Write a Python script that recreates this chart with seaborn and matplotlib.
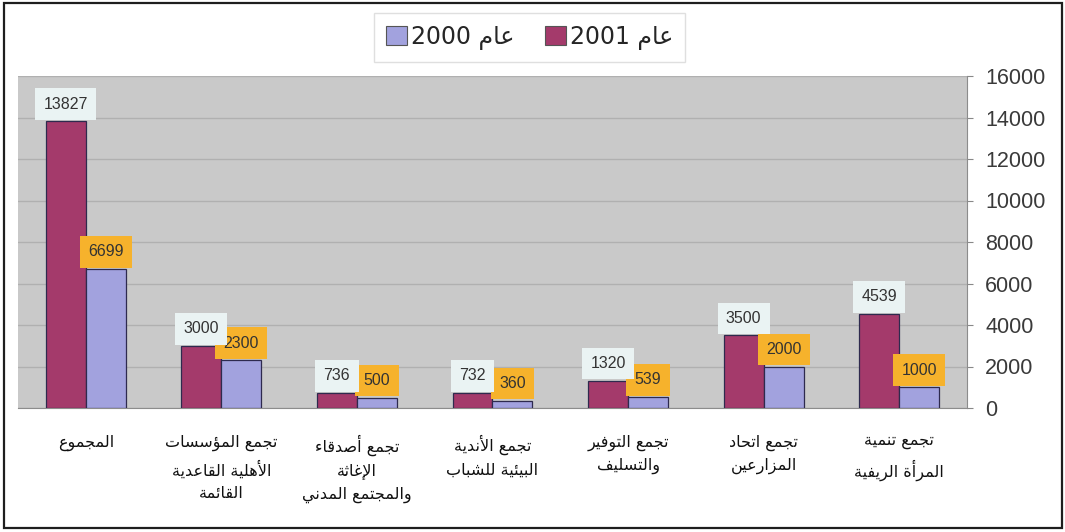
import matplotlib
matplotlib.use("Agg")
import matplotlib.pyplot as plt
from matplotlib.patches import Patch, Rectangle
import pandas as pd
import seaborn as sns

# ---- data -------------------------------------------------------------
categories = [
    "المجموع",
    "تجمع المؤسسات\nالأهلية القاعدية\nالقائمة",
    "تجمع أصدقاء\nالإغاثة\nوالمجتمع المدني",
    "تجمع الأندية\nالبيئية للشباب",
    "تجمع التوفير\nوالتسليف",
    "تجمع اتحاد\nالمزارعين",
    "تجمع تنمية\nالمرأة الريفية",
]
values_2001 = [13827, 3000, 736, 732, 1320, 3500, 4539]
values_2000 = [6699, 2300, 500, 360, 539, 2000, 1000]
series_names = ["عام 2001", "عام 2000"]
y_ticks = [0, 2000, 4000, 6000, 8000, 10000, 12000, 14000, 16000]

# ---- minimal Arabic shaping (presentation forms + visual order) ---------
_FORMS = {
    "\u0621": (0xFE80, 1), "\u0622": (0xFE81, 2), "\u0623": (0xFE83, 2),
    "\u0624": (0xFE85, 2), "\u0625": (0xFE87, 2), "\u0626": (0xFE89, 4),
    "\u0627": (0xFE8D, 2), "\u0628": (0xFE8F, 4), "\u0629": (0xFE93, 2),
    "\u062A": (0xFE95, 4), "\u062B": (0xFE99, 4), "\u062C": (0xFE9D, 4),
    "\u062D": (0xFEA1, 4), "\u062E": (0xFEA5, 4), "\u062F": (0xFEA9, 2),
    "\u0630": (0xFEAB, 2), "\u0631": (0xFEAD, 2), "\u0632": (0xFEAF, 2),
    "\u0633": (0xFEB1, 4), "\u0634": (0xFEB5, 4), "\u0635": (0xFEB9, 4),
    "\u0636": (0xFEBD, 4), "\u0637": (0xFEC1, 4), "\u0638": (0xFEC5, 4),
    "\u0639": (0xFEC9, 4), "\u063A": (0xFECD, 4), "\u0641": (0xFED1, 4),
    "\u0642": (0xFED5, 4), "\u0643": (0xFED9, 4), "\u0644": (0xFEDD, 4),
    "\u0645": (0xFEE1, 4), "\u0646": (0xFEE5, 4), "\u0647": (0xFEE9, 4),
    "\u0648": (0xFEED, 2), "\u0649": (0xFEEF, 2), "\u064A": (0xFEF1, 4),
}
_LAM_ALEF = {"\u0622": 0xFEF5, "\u0623": 0xFEF7, "\u0625": 0xFEF9, "\u0627": 0xFEFB}


def _shape_word(word):
    units = []
    i = 0
    while i < len(word):
        ch = word[i]
        if ch == "\u0644" and i + 1 < len(word) and word[i + 1] in _LAM_ALEF:
            units.append((_LAM_ALEF[word[i + 1]], 2))
            i += 2
            continue
        if ch in _FORMS:
            units.append(_FORMS[ch])
        else:
            units.append((ord(ch), 0))
        i += 1
    out = []
    for k, (base, n) in enumerate(units):
        if n < 2:
            out.append(chr(base))
            continue
        jp = k > 0 and units[k - 1][1] == 4
        jn = n == 4 and k + 1 < len(units) and units[k + 1][1] >= 2
        if n == 2:
            out.append(chr(base + 1 if jp else base))
        else:
            if jp and jn:
                out.append(chr(base + 3))
            elif jp:
                out.append(chr(base + 1))
            elif jn:
                out.append(chr(base + 2))
            else:
                out.append(chr(base))
    return "".join(reversed(out))


def rtl(text):
    lines = []
    for line in text.split("\n"):
        words = [w if w.isdigit() else _shape_word(w) for w in line.split(" ")]
        lines.append(" ".join(reversed(words)))
    return "\n".join(lines)


# ---- styling ----------------------------------------------------------
sns.set_style("white")
plt.rcParams["font.family"] = ["DejaVu Sans"]

c2001 = "#A43A6B"
c2000 = "#A2A2DE"
plot_bg = "#C9C9C9"
grid_c = "#B0B0B0"

df = pd.DataFrame({
    "category": categories * 2,
    "series": [series_names[0]] * len(categories) + [series_names[1]] * len(categories),
    "value": values_2001 + values_2000,
})

fig = plt.figure(figsize=(10.65, 5.32), dpi=100)
ax = fig.add_axes([18 / 1065, 1 - 408 / 532, (967 - 18) / 1065, (408 - 76) / 532])
ax.set_facecolor(plot_bg)

sns.barplot(
    data=df, x="category", y="value", hue="series",
    order=categories, hue_order=series_names,
    palette=[c2001, c2000], saturation=1, width=0.59,
    edgecolor="#2E2A4E", linewidth=0.9, legend=False, ax=ax, zorder=3,
)

ax.set_ylim(0, 16000)
ax.set_xlim(-0.5, len(categories) - 0.5)
ax.set_yticks(y_ticks)
ax.yaxis.tick_right()
ax.yaxis.grid(True, color=grid_c, linewidth=1, zorder=0)
ax.set_axisbelow(True)
ax.tick_params(axis="y", length=4, color="#888888", pad=9, labelsize=15.5,
               labelcolor="#3A3A3A")
for lab in ax.get_yticklabels():
    lab.set_family("Liberation Sans")
    lab.set_horizontalalignment("left")

ax.set_xticks(range(len(categories)))
ax.set_xticklabels([rtl(c) for c in categories], fontsize=11.5, color="#111111",
                   linespacing=1.62, va="top")
ax.tick_params(axis="x", length=0, pad=19)
ax.set_xlabel("")
ax.set_ylabel("")

for side in ("top", "left"):
    ax.spines[side].set_visible(False)
ax.spines["right"].set_color("#8C8C8C")
ax.spines["bottom"].set_color("#8C8C8C")

# value labels: 2000 boxes underneath, 2001 boxes on top
label_styles = [
    (ax.containers[0], "#EAF3F3", 7),
    (ax.containers[1], "#F6B22C", 6),
]
for container, box_c, z in label_styles:
    for bar in container:
        h = bar.get_height()
        ax.annotate(
            f"{h:.0f}", xy=(bar.get_x() + bar.get_width() / 2, h),
            xytext=(0, 17), textcoords="offset pixels",
            ha="center", va="center", fontsize=11.5, family="Liberation Sans",
            color="#333333", zorder=z,
            bbox=dict(boxstyle="square,pad=0.52", fc=box_c, ec="none"),
        )

# legend
handles = [
    Patch(facecolor=c2000, edgecolor="#555555", linewidth=0.8, label=rtl(series_names[1])),
    Patch(facecolor=c2001, edgecolor="#555555", linewidth=0.8, label=rtl(series_names[0])),
]
leg = fig.legend(
    handles=handles, loc="center", bbox_to_anchor=(0.497, 0.930), ncol=2,
    frameon=True, fancybox=False, edgecolor="#D8D8D8", fontsize=17,
    handlelength=0.9, handleheight=0.9, handletextpad=0.15, columnspacing=1.3,
    borderpad=0.5,
)
leg.get_frame().set_linewidth(1)

# outer frame around the whole chart
fig.add_artist(Rectangle((4 / 1065, 1 - 528 / 532), 1058 / 1065, 525 / 532,
                         transform=fig.transFigure, fill=False,
                         edgecolor="#1E1E1E", linewidth=1.6))

fig.savefig("out.png", dpi=100)
